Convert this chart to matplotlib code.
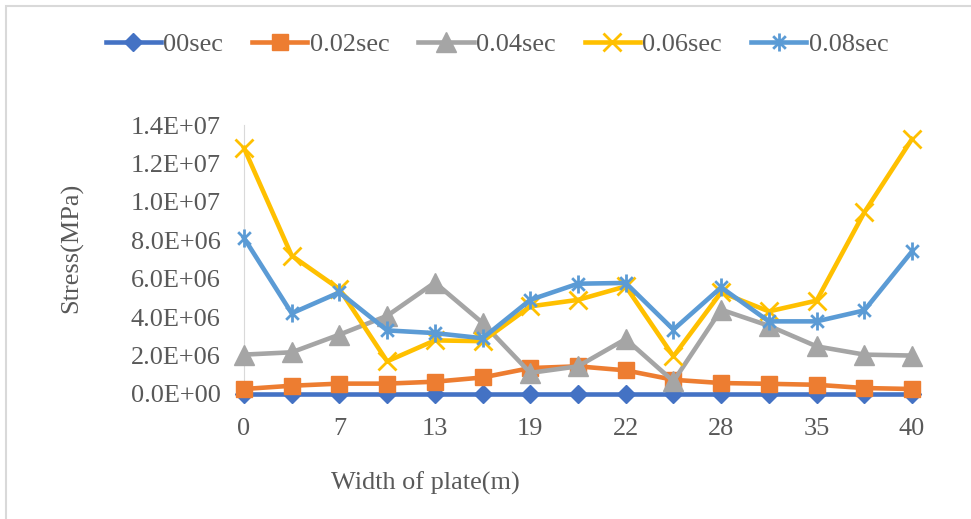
import matplotlib
matplotlib.use('Agg')
import matplotlib.pyplot as plt
from matplotlib.path import Path
from matplotlib.patches import Rectangle

# plate width positions (only every second one gets a label)
widths = [0, 3, 7, 10, 13, 16, 19, 20, 22, 25, 28, 32, 35, 38, 40]

# stress along the plate at each time step (Pa)
s_00 = [0] * 15
s_002 = [0.26e6, 0.43e6, 0.54e6, 0.54e6, 0.64e6, 0.86e6, 1.35e6, 1.44e6,
         1.23e6, 0.74e6, 0.57e6, 0.53e6, 0.48e6, 0.31e6, 0.26e6]
s_004 = [2.05e6, 2.17e6, 3.09e6, 4.07e6, 5.8e6, 3.7e6, 1.1e6, 1.44e6,
         2.86e6, 0.66e6, 4.39e6, 3.55e6, 2.48e6, 2.05e6, 2.0e6]
s_006 = [12.8e6, 7.2e6, 5.46e6, 1.7e6, 2.79e6, 2.75e6, 4.56e6, 4.9e6,
         5.6e6, 1.96e6, 5.29e6, 4.3e6, 4.86e6, 9.45e6, 13.27e6]
s_008 = [8.12e6, 4.2e6, 5.29e6, 3.31e6, 3.17e6, 2.9e6, 4.9e6, 5.74e6,
         5.78e6, 3.35e6, 5.55e6, 3.78e6, 3.78e6, 4.35e6, 7.42e6]

labels = ['00sec', '0.02sec', '0.04sec', '0.06sec', '0.08sec']
colors = ['#4472C4', '#ED7D31', '#A5A5A5', '#FFC000', '#5B9BD5']

# asterisk marker: an X with a vertical bar through it
star = Path([(0, -1), (0, 1), (-0.7, -0.7), (0.7, 0.7), (-0.7, 0.7), (0.7, -0.7)],
            [Path.MOVETO, Path.LINETO, Path.MOVETO, Path.LINETO, Path.MOVETO, Path.LINETO])

plt.rcParams['font.family'] = ['Liberation Serif', 'DejaVu Serif']
text_color = '#595959'
fs = 18.9

fig = plt.figure(figsize=(9.71, 5.19), dpi=100)
ax = fig.add_axes([244 / 971, 1 - 394 / 519, (912 - 244) / 971, (394 - 125) / 519])

idx = list(range(len(widths)))
kw = dict(lw=3.3, clip_on=False, zorder=3)
ax.plot(idx, s_00, color=colors[0], marker='D', ms=9.5, label=labels[0], **kw)
ax.plot(idx, s_002, color=colors[1], marker='s', ms=12, label=labels[1], **kw)
ax.plot(idx, s_004, color=colors[2], marker='^', ms=14, label=labels[2], **kw)
ax.plot(idx, s_006, color=colors[3], marker='x', ms=13, mew=2, label=labels[3], **kw)
ax.plot(idx, s_008, color=colors[4], marker=star, ms=13, mew=2,
        mec=colors[4], label=labels[4], **kw)

ax.set_xlim(0, len(widths) - 1)
ax.set_ylim(0, 1.4e7)
ax.set_yticks([i * 2e6 for i in range(8)])
ax.set_yticklabels([f'{i * 2e6:.1E}' for i in range(8)])
ax.set_xticks(idx[::2])
ax.set_xticklabels([str(w) for w in widths[::2]])

for side in ['top', 'right']:
    ax.spines[side].set_visible(False)
ax.spines['left'].set_color('#d9d9d9')
ax.spines['bottom'].set_color('#d9d9d9')
ax.spines['left'].set_zorder(1)
ax.spines['bottom'].set_zorder(1)
ax.tick_params(axis='both', length=0, labelsize=fs, colors=text_color)
ax.tick_params(axis='y', pad=17)
ax.tick_params(axis='x', pad=17)

fig.text(72 / 971, 1 - 248 / 519, 'Stress(MPa)', rotation=90, ha='center', va='center',
         fontsize=fs, color=text_color)
fig.text(425 / 971, 1 - 483 / 519, 'Width of plate(m)', ha='center', va='center',
         fontsize=fs, color=text_color)

leg = fig.legend(loc='center', bbox_to_anchor=(497 / 971, 1 - 44 / 519), ncol=5,
                 frameon=False, fontsize=fs, handlelength=2.1, handletextpad=0.1,
                 columnspacing=1.1, borderaxespad=0)
for t in leg.get_texts():
    t.set_color(text_color)

# chart area border
fig.patches.append(Rectangle((6 / 971, -0.1), 1.2, 1.1 - 6 / 519, transform=fig.transFigure,
                             fill=False, edgecolor='#d9d9d9', lw=1.5))

fig.savefig('out.png', dpi=100)
